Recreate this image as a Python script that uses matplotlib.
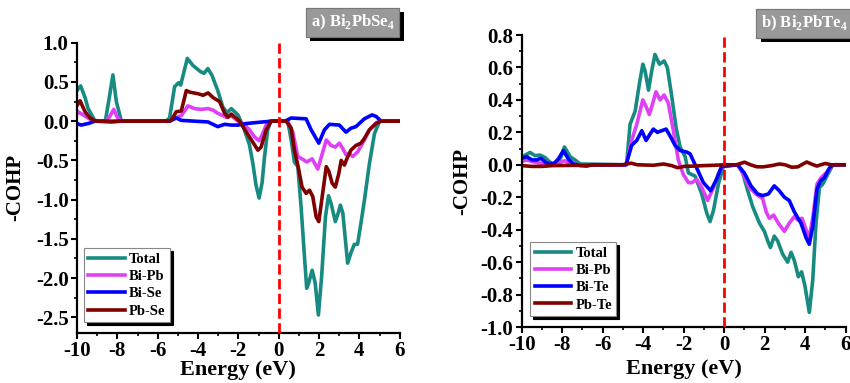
import matplotlib
matplotlib.use("Agg")
import matplotlib.pyplot as plt
import matplotlib.patheffects as pe
from matplotlib.ticker import MultipleLocator

plt.rcParams['font.family'] = ['Liberation Serif', 'DejaVu Serif']
plt.rcParams['font.weight'] = 'bold'
plt.rcParams['axes.unicode_minus'] = False
plt.rcParams['mathtext.fontset'] = 'custom'
plt.rcParams['mathtext.rm'] = 'Liberation Serif:bold'
plt.rcParams['mathtext.bf'] = 'Liberation Serif:bold'

# ---- (a) Bi2PbSe4 ----
se_e_total = [-10, -9.82, -9.6, -9.45, -9.12, -8.8, -8.59, -8.4, -8.22, -8.05, -7.8,
              -5.6, -5.41, -5.16, -4.96, -4.86, -4.53, -4.25, -3.87, -3.7, -3.51, -3.31,
              -3.02, -2.77, -2.55, -2.35, -2.02, -1.77, -1.45, -1.28, -1.12, -0.97, -0.82,
              -0.7, -0.55, -0.4, 0.45, 0.62, 0.78, 0.95, 1.11, 1.28, 1.39, 1.49, 1.66,
              1.81, 1.97, 2.13, 2.32, 2.47, 2.6, 2.81, 2.93, 3.06, 3.18, 3.42, 3.58, 3.75,
              3.91, 4.08, 4.25, 4.5, 4.75, 5.0, 6.0]
se_total = [0.39, 0.45, 0.3, 0.16, 0.01, 0.0, 0.01, 0.3, 0.59, 0.25, 0.0,
            0.0, 0.04, 0.44, 0.49, 0.46, 0.80, 0.71, 0.63, 0.61, 0.67, 0.585,
            0.39, 0.18, 0.11, 0.16, 0.08, -0.06, -0.3, -0.54, -0.82, -0.98, -0.78,
            -0.45, -0.12, 0.0, 0.0, -0.24, -0.52, -0.58, -1.09, -1.73, -2.13, -2.06, -1.90,
            -2.06, -2.47, -1.98, -1.22, -0.95, -1.05, -1.28, -1.19, -1.07, -1.17, -1.81, -1.68, -1.57,
            -1.57, -1.30, -1.01, -0.54, -0.16, 0.0, 0.0]

se_e_bipb = [-10, -9.95, -9.7, -9.45, -9.2, -8.6, -8.4, -8.18, -8.0, -7.8,
             -5.5, -5.16, -4.83, -4.5, -4.17, -3.85, -3.5, -3.25, -3.02, -2.6, -2.35,
             -2.02, -1.77, -1.45, -1.2, -0.97, -0.79, -0.62, -0.45, 0.45, 0.7, 0.85, 0.95,
             1.28, 1.39, 1.66, 1.94, 2.19, 2.36, 2.6, 2.81, 3.01, 3.18, 3.34, 3.5, 3.67,
             3.92, 4.25, 4.5, 4.83, 5.05, 6.0]
se_bipb = [0.10, 0.12, 0.08, 0.04, 0.0, 0.0, 0.05, 0.15, 0.05, 0.0,
           0.0, 0.04, 0.07, 0.195, 0.16, 0.15, 0.16, 0.14, 0.10, 0.05, 0.07,
           0.0, -0.03, -0.11, -0.2, -0.25, -0.16, -0.05, 0.0, 0.0, -0.14, -0.33, -0.45,
           -0.5, -0.52, -0.48, -0.61, -0.39, -0.24, -0.31, -0.33, -0.28, -0.35, -0.43, -0.41, -0.45,
           -0.39, -0.24, -0.11, -0.02, 0.0, 0.0]

se_e_bise = [-10, -9.8, -9.45, -9.1, -8.3, -7.8, -5.4, -5.08, -4.83, -4.17, -3.5, -3.02,
             -2.68, -2.35, -2.02, -1.61, -0.79, -0.3, 0.3, 0.62, 1.36, 1.61, 1.99, 2.27,
             2.52, 3.01, 3.34, 3.58, 3.83, 4.25, 4.63, 4.83, 5.08, 6.0]
se_bise = [-0.03, -0.05, -0.03, 0.0, -0.01, 0.0, 0.0, 0.04, 0.01, 0.0, -0.01, -0.07,
           -0.04, -0.05, -0.05, -0.03, -0.01, 0.0, 0.0, 0.04, 0.03, -0.11, -0.28, -0.11,
           -0.04, -0.05, -0.14, -0.09, -0.07, 0.03, 0.08, 0.06, 0.0, 0.0]

se_e_pbse = [-10, -9.85, -9.6, -9.35, -9.1, -5.4, -5.33, -5.08, -4.83, -4.58, -4.41, -4.0,
             -3.75, -3.5, -3.25, -2.93, -2.68, -2.51, -2.35, -1.94, -1.45, -1.03, -0.87,
             -0.62, -0.37, 0.37, 0.62, 0.78, 0.95, 1.16, 1.36, 1.53, 1.69, 1.86, 1.99, 2.16,
             2.36, 2.49, 2.65, 2.81, 2.98, 3.1, 3.26, 3.38, 3.58, 3.83, 4.08, 4.25, 4.5,
             4.83, 5.08, 6.0]
se_pbse = [0.2, 0.26, 0.12, 0.04, 0.0, 0.0, 0.01, 0.12, 0.13, 0.39, 0.37, 0.35,
           0.33, 0.36, 0.30, 0.25, 0.10, 0.05, 0.09, 0.0, -0.2, -0.37, -0.33,
           -0.11, 0.0, 0.0, -0.09, -0.37, -0.56, -0.84, -0.92, -0.88, -0.96, -1.22, -1.28, -0.96,
           -0.58, -0.64, -0.79, -0.84, -0.67, -0.5, -0.56, -0.48, -0.37, -0.31, -0.28, -0.22, -0.11,
           -0.03, 0.0, 0.0]

# ---- (b) Bi2PbTe4 ----
te_e_total = [-10, -9.59, -9.34, -9.1, -8.85, -8.6, -8.27, -8.05, -7.89, -7.61, -7.37, -7.12,
              -4.85, -4.81, -4.65, -4.4, -4.19, -4.02, -3.91, -3.74, -3.58, -3.42, -3.2,
              -2.97, -2.81, -2.59, -2.38, -2.18, -1.93, -1.77, -1.44, -1.11, -0.86, -0.70,
              -0.53, -0.29, -0.04, 0.66, 0.91, 1.16, 1.41, 1.74, 1.98, 2.15, 2.28, 2.47,
              2.64, 2.88, 3.13, 3.3, 3.46, 3.66, 3.82, 3.99, 4.2, 4.37, 4.53, 4.7, 4.86,
              5.11, 5.36, 6.0]
te_total = [0.047, 0.076, 0.056, 0.06, 0.045, 0.015, 0.0, 0.05, 0.11, 0.05, 0.03, 0.005,
            0.0, 0.02, 0.25, 0.33, 0.50, 0.62, 0.58, 0.46, 0.58, 0.68, 0.62,
            0.64, 0.60, 0.42, 0.23, 0.11, 0.05, -0.05, -0.07, -0.18, -0.30, -0.35,
            -0.28, -0.12, -0.01, 0.0, -0.05, -0.16, -0.26, -0.36, -0.41, -0.47, -0.51, -0.44,
            -0.47, -0.55, -0.6, -0.54, -0.59, -0.69, -0.66, -0.75, -0.91, -0.71, -0.36, -0.14, -0.12,
            -0.06, 0.0, 0.0]

te_e_bipb = [-10, -9.75, -9.5, -9.1, -8.6, -8.2, -7.9, -7.6, -7.2, -4.85, -4.57, -4.32,
             -4.02, -3.83, -3.7, -3.53, -3.37, -3.17, -2.97, -2.76, -2.51, -2.27, -2.02,
             -1.77, -1.6, -1.36, -1.11, -0.82, -0.53, -0.29, -0.04, 0.66, 0.91, 1.24, 1.57,
             1.9, 2.07, 2.23, 2.44, 2.67, 2.97, 3.21, 3.46, 3.63, 3.84, 4.04, 4.17, 4.37,
             4.58, 4.78, 5.11, 5.36, 6.0]
te_bipb = [0.02, 0.03, 0.02, 0.01, 0.0, 0.01, 0.025, 0.01, 0.0, 0.0, 0.15, 0.25,
           0.40, 0.35, 0.31, 0.38, 0.45, 0.40, 0.43, 0.38, 0.21, 0.03, -0.06,
           -0.11, -0.11, -0.09, -0.14, -0.22, -0.14, -0.055, 0.0, 0.0, -0.05, -0.14, -0.18,
           -0.21, -0.29, -0.33, -0.31, -0.36, -0.41, -0.36, -0.32, -0.34, -0.33, -0.40, -0.46, -0.33,
           -0.12, -0.08, -0.04, 0.0, 0.0]

te_e_bite = [-10, -9.75, -9.5, -9.26, -9.06, -8.77, -8.44, -8.19, -7.94, -7.7, -7.45, -7.12,
             -6.79, -6.5, -4.85, -4.57, -4.32, -4.07, -3.86, -3.66, -3.5, -3.3, -3.09, -2.87,
             -2.64, -2.43, -2.18, -1.85, -1.69, -1.36, -1.03, -0.67, -0.38, -0.13, 0.66, 0.99,
             1.32, 1.65, 1.9, 2.18, 2.47, 2.72, 2.97, 3.21, 3.46, 3.79, 4.04, 4.2, 4.37, 4.58,
             4.75, 4.94, 5.19, 5.36, 6.0]
te_bite = [0.04, 0.05, 0.03, 0.03, 0.04, 0.01, 0.005, 0.036, 0.088, 0.036, 0.005, -0.005,
           -0.008, 0.0, 0.0, 0.12, 0.15, 0.21, 0.15, 0.19, 0.22, 0.2, 0.21, 0.22,
           0.17, 0.12, 0.088, 0.078, 0.068, -0.02, -0.11, -0.16, -0.09, -0.01, 0.0, -0.05,
           -0.13, -0.18, -0.19, -0.18, -0.13, -0.16, -0.2, -0.22, -0.29, -0.36, -0.45, -0.49, -0.38, -0.15,
           -0.1, -0.08, -0.02, 0.0, 0.0]

te_e_pbte = [-10, -9.5, -9.0, -8.5, -5.0, -4.6, -4.3, -3.5, -3.0, -2.6, -2.3, -2.0, -1.5,
             -1.0, -0.5, 0.0, 0.6, 1.0, 1.3, 1.6, 1.9, 2.35, 2.72, 3.0, 3.33, 3.63, 4.07,
             4.3, 4.57, 4.98, 5.3, 6.0]
te_pbte = [-0.005, -0.01, -0.01, -0.005, 0.0, 0.01, 0.0, -0.003, 0.005, -0.005, -0.018, -0.01, -0.008,
           -0.005, -0.003, 0.0, 0.0, 0.016, 0.0, -0.012, -0.013, -0.005, 0.005, 0.0, -0.015, -0.013, 0.017,
           0.005, -0.008, 0.008, 0.0, 0.0]

colors = {'Total': '#178a82', 'Bi-Pb': '#e040f5', 'Bi-X': '#0000ff', 'Pb-X': '#800000'}

fig = plt.figure(figsize=(8.5, 3.83), dpi=100)
ax1 = fig.add_axes([0.0906, 0.1305, 0.3796, 0.758])
ax2 = fig.add_axes([0.6138, 0.1462, 0.3812, 0.7624])

panels = [
    (ax1, [(se_e_total, se_total, 'Total', colors['Total']),
           (se_e_bipb, se_bipb, 'Bi-Pb', colors['Bi-Pb']),
           (se_e_bise, se_bise, 'Bi-Se', colors['Bi-X']),
           (se_e_pbse, se_pbse, 'Pb-Se', colors['Pb-X'])],
     (-2.7, 1.0), 0.5, 0.25, (0.021, 0.038), -0.16, -0.094),
    (ax2, [(te_e_total, te_total, 'Total', colors['Total']),
           (te_e_bipb, te_bipb, 'Bi-Pb', colors['Bi-Pb']),
           (te_e_bite, te_bite, 'Bi-Te', colors['Bi-X']),
           (te_e_pbte, te_pbte, 'Pb-Te', colors['Pb-X'])],
     (-1.0, 0.8), 0.2, 0.1, (0.026, 0.038), -0.152, -0.11),
]

for ax, series, ylim, ymaj, ymin, leg_pos, ylab_x, xlab_y in panels:
    for e, v, name, c in series:
        ax.plot(e, v, color=c, lw=2.6, label=name, solid_joinstyle='round')
    ax.axvline(0, color='red', ls='--', lw=2, zorder=5)
    ax.set_xlim(-10, 6)
    ax.set_ylim(*ylim)
    ax.xaxis.set_major_locator(MultipleLocator(2))
    ax.xaxis.set_minor_locator(MultipleLocator(1))
    ax.yaxis.set_major_locator(MultipleLocator(ymaj))
    ax.yaxis.set_minor_locator(MultipleLocator(ymin))
    ax.yaxis.set_major_formatter(matplotlib.ticker.FormatStrFormatter('%.1f'))
    ax.tick_params(which='major', direction='out', length=4, width=1.5, labelsize=15, pad=2)
    ax.tick_params(which='minor', direction='out', length=2.5, width=1.2)
    for s in ('top', 'right'):
        ax.spines[s].set_visible(False)
    for s in ('left', 'bottom'):
        ax.spines[s].set_linewidth(1.6)
    for lab in ax.get_xticklabels() + ax.get_yticklabels():
        lab.set_fontweight('bold')
    ax.set_xlabel('Energy (eV)', fontsize=16, fontweight='bold')
    ax.xaxis.set_label_coords(0.5, xlab_y)
    ax.set_ylabel('-COHP', fontsize=15, fontweight='bold')
    ax.yaxis.set_label_coords(ylab_x, 0.5)
    leg = ax.legend(loc='lower left', bbox_to_anchor=leg_pos, borderaxespad=0,
                    prop={'family': 'Liberation Serif', 'weight': 'bold', 'size': 10.5},
                    handlelength=2.5, handletextpad=0.3, labelspacing=0.28,
                    borderpad=0.3, fancybox=False, framealpha=1,
                    shadow={'color': 'black', 'alpha': 1})
    leg.get_frame().set_edgecolor('#888888')
    leg.get_frame().set_linewidth(0.8)

# panel tags in grey boxes with a black drop shadow
tags = [(0.415, 0.941, r'a) Bi$_{\mathbf{2}}$PbSe$_{\mathbf{4}}$'),
        (0.9465, 0.9386, r'b) Bi$_{\mathbf{2}}$PbTe$_{\mathbf{4}}$')]
for x, y, txt in tags:
    t = fig.text(x, y, txt, ha='center', va='center', color='white',
                 fontsize=12, fontweight='bold',
                 bbox=dict(boxstyle='square,pad=0.28', fc='#999999', ec='#777777', lw=0.8))
    t.get_bbox_patch().set_path_effects([
        pe.withSimplePatchShadow(offset=(3, -3), shadow_rgbFace='black', alpha=1),
        pe.Normal()])

fig.savefig('out.png', dpi=100)
